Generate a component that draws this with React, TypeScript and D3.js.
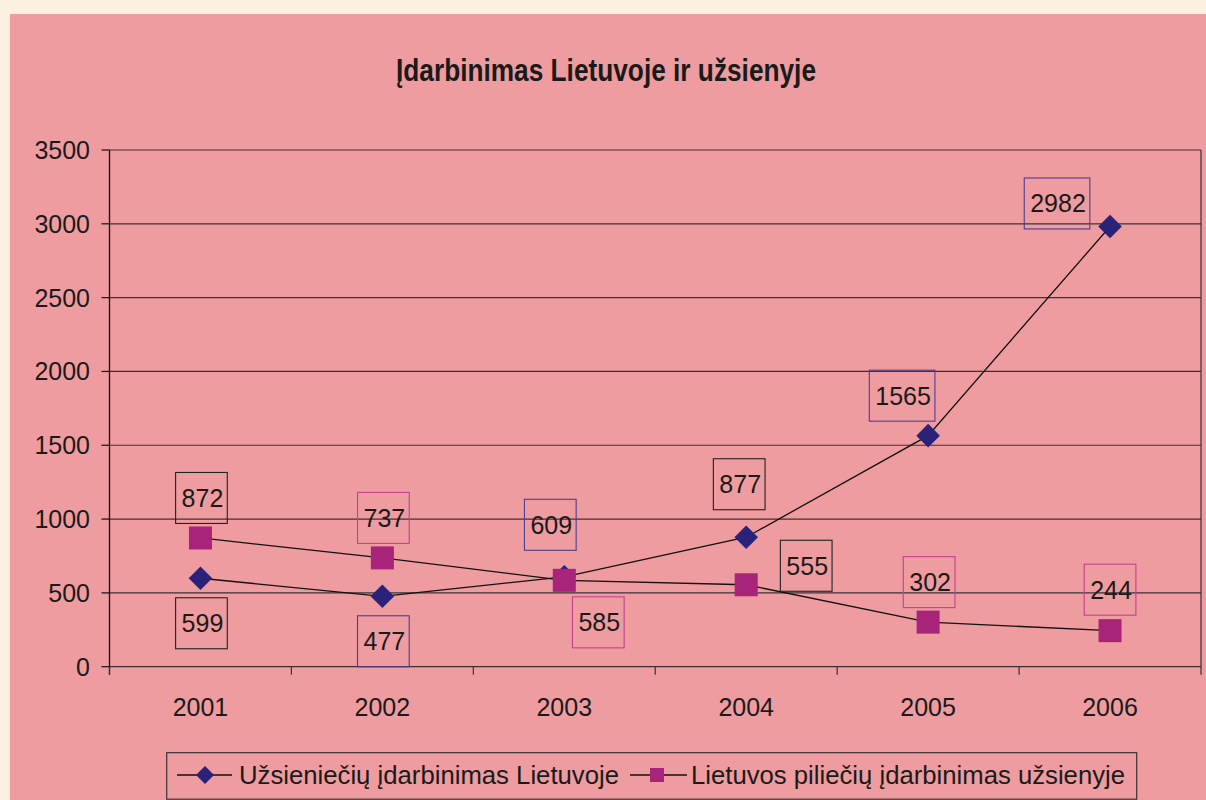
import React from "react";
import * as d3 from "d3";

const years = ["2001", "2002", "2003", "2004", "2005", "2006"];
const foreignWorkers = [599, 477, 609, 877, 1565, 2982];
const citizensAbroad = [872, 737, 585, 555, 302, 244];
const yTicks = [0, 500, 1000, 1500, 2000, 2500, 3000, 3500];
const seriesNames = ["Užsieniečių įdarbinimas Lietuvoje", "Lietuvos piliečių įdarbinimas užsienyje"];
const title = "Įdarbinimas Lietuvoje ir užsienyje";

// layout: label offsets relative to point (px), and label border colours
const foreignLabelOffsets: [number, number][] = [[1, 45], [1, 45], [-14, -52], [-7, -53], [-26, -40], [-53, -23]];
const citizenLabelOffsets: [number, number][] = [[1, -40], [1, -40], [34, 42], [60, -19], [1, -40], [0, -41]];

const NAVY = "#2a2178";
const MAGENTA = "#a8237a";
const NAVY_B = "#4b3f95";
const MAG_B = "#c2418f";
const BLK = "#222";
const foreignLabelBorders = [BLK, NAVY_B, NAVY_B, BLK, NAVY_B, NAVY_B];
const citizenLabelBorders = [BLK, MAG_B, MAG_B, BLK, MAG_B, MAG_B];

const FONT = "'Liberation Sans', Arial, Helvetica, sans-serif";
const GRID = "#3b3236";

export default function App() {
  const left = 109.5, right = 1201, top = 150, bottom = 666.7;
  const x = d3.scaleBand<string>().domain(years).range([left, right]);
  const y = d3.scaleLinear().domain([0, 3500]).range([bottom, top]);
  const cx = (i: number) => (x(years[i]) as number) + x.bandwidth() / 2;
  const line = d3.line<number>().x((_, i) => cx(i)).y((v) => y(v));
  const boundaries = years.map((yr) => x(yr) as number).concat([right]);

  const labelFor = (v: number, i: number, off: [number, number], stroke: string, key: string) => {
    const txt = String(v);
    const w = txt.length * 13.9 + 10;
    const h = 51;
    const lx = cx(i) + off[0];
    const ly = y(v) + off[1];
    return (
      <g key={key}>
        <rect x={lx - w / 2} y={ly - h / 2} width={w} height={h} fill="none" stroke={stroke} strokeWidth={1.1} />
        <text x={lx + 1} y={ly + 9} textAnchor="middle" fontSize={25} fontFamily={FONT} fill="#1a1a1a">{txt}</text>
      </g>
    );
  };

  const diamond = (px: number, py: number, r: number, key?: string) => (
    <path key={key} d={`M${px},${py - r}L${px + r},${py}L${px},${py + r}L${px - r},${py}Z`} fill={NAVY} />
  );
  const square = (px: number, py: number, s: number, key?: string) => (
    <rect key={key} x={px - s / 2} y={py - s / 2} width={s} height={s} fill={MAGENTA} />
  );

  return (
    <svg width={1206} height={800} style={{ position: "absolute", left: 0, top: 0 }}>
      <rect x={0} y={0} width={1206} height={800} fill="#fcf0e2" />
      <rect x={10} y={14} width={1196} height={786} fill="#ee9ca0" />

      <text x={606} y={81} textAnchor="middle" fontSize={31} fontWeight="bold" fontFamily={FONT} fill="#1a1a1a"
        textLength={420} lengthAdjust="spacingAndGlyphs">{title}</text>

      {/* gridlines */}
      {yTicks.filter((t) => t > 0).map((t) => (
        <line key={"g" + t} x1={left} x2={right} y1={y(t)} y2={y(t)} stroke={GRID} strokeWidth={1.2} />
      ))}
      {/* right border */}
      <line x1={right} x2={right} y1={top} y2={bottom} stroke={GRID} strokeWidth={1.2} />
      {/* y axis */}
      <line x1={left} x2={left} y1={top} y2={bottom + 8} stroke="#111" strokeWidth={1.3} />
      {yTicks.map((t) => (
        <g key={"t" + t}>
          <line x1={left - 8} x2={left} y1={y(t)} y2={y(t)} stroke="#111" strokeWidth={1.2} />
          <text x={90} y={y(t) + 9} textAnchor="end" fontSize={25} fontFamily={FONT} fill="#1a1a1a">{t}</text>
        </g>
      ))}
      {/* x axis */}
      <line x1={left} x2={right} y1={bottom} y2={bottom} stroke={GRID} strokeWidth={1.3} />
      {boundaries.map((b, i) => (
        <line key={"xb" + i} x1={b} x2={b} y1={bottom} y2={bottom + 8} stroke={GRID} strokeWidth={1.2} />
      ))}
      {years.map((yr, i) => (
        <text key={yr} x={cx(i)} y={716} textAnchor="middle" fontSize={25} fontFamily={FONT} fill="#1a1a1a">{yr}</text>
      ))}

      {/* series lines */}
      <path d={line(foreignWorkers) || ""} fill="none" stroke="#111" strokeWidth={1.3} />
      <path d={line(citizensAbroad) || ""} fill="none" stroke="#111" strokeWidth={1.3} />
      {foreignWorkers.map((v, i) => diamond(cx(i), y(v), 11.8, "d" + i))}
      {citizensAbroad.map((v, i) => square(cx(i), y(v), 23, "s" + i))}

      {/* data labels */}
      {foreignWorkers.map((v, i) => labelFor(v, i, foreignLabelOffsets[i], foreignLabelBorders[i], "fl" + i))}
      {citizensAbroad.map((v, i) => labelFor(v, i, citizenLabelOffsets[i], citizenLabelBorders[i], "cl" + i))}

      {/* legend */}
      <rect x={166.7} y={752.7} width={970} height={46.5} fill="none" stroke="#3a3035" strokeWidth={1.2} />
      <line x1={177} x2={232} y1={775} y2={775} stroke="#111" strokeWidth={1.3} />
      {diamond(205, 775, 9)}
      <text x={239} y={784} fontSize={25} fontFamily={FONT} fill="#1a1a1a" textLength={380} lengthAdjust="spacingAndGlyphs">{seriesNames[0]}</text>
      <line x1={630} x2={687} y1={775} y2={775} stroke="#111" strokeWidth={1.3} />
      {square(657, 775, 14)}
      <text x={691} y={784} fontSize={25} fontFamily={FONT} fill="#1a1a1a" textLength={434} lengthAdjust="spacingAndGlyphs">{seriesNames[1]}</text>
    </svg>
  );
}
